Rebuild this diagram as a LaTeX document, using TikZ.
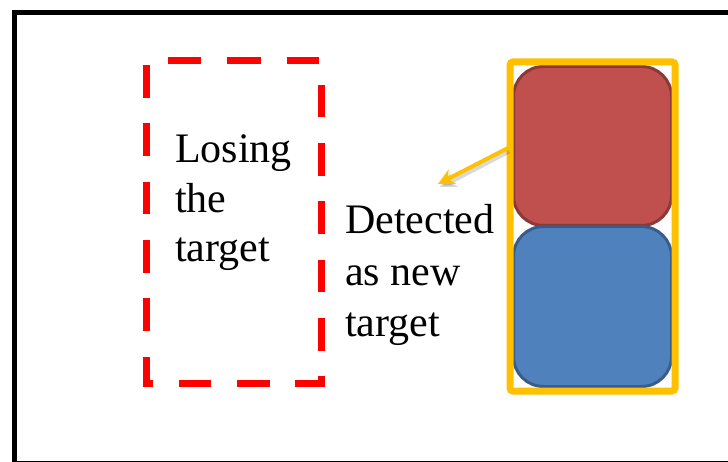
\documentclass[tikz,border=0pt]{standalone}
\usepackage{fontspec}
\setmainfont{Liberation Serif}
\usetikzlibrary{arrows.meta}
\definecolor{ppred}{HTML}{C0504D}
\definecolor{ppredline}{HTML}{8C3836}
\definecolor{ppblue}{HTML}{4F81BD}
\definecolor{ppblueline}{HTML}{385D8A}
\definecolor{ppyellow}{HTML}{FFC000}
\tikzset{
  block/.style={rectangle, minimum width=158pt, inner sep=0pt, line width=3pt, rounded corners=30pt},
  redblock/.style={block, fill=ppred, draw=ppredline, minimum height=159pt},
  blueblock/.style={block, fill=ppblue, draw=ppblueline, minimum height=160pt},
  yframe/.style={rectangle, draw=ppyellow, line width=7pt, rounded corners=3pt, minimum width=165pt, minimum height=329pt, inner sep=0pt},
  lostarea/.style={rectangle, minimum width=174pt, minimum height=322pt, inner sep=0pt},
  lostline/.style={draw=red, line width=7pt, dash pattern=on 32.5pt off 25.85pt, dash phase=5.6pt},
  txt/.style={anchor=base west, inner sep=0pt},
  yarrow/.style={draw=ppyellow, line width=4pt, -{Stealth[length=16pt,width=16pt,inset=5pt]}},
  yshadow/.style={draw=black, opacity=0.15, line width=5pt, -{Stealth[length=16pt,width=16pt,inset=5pt]}},
  outer/.style={draw=black, line width=5pt}
}
\begin{document}
\begin{tikzpicture}[x=1pt,y=-1pt]
\useasboundingbox (0,0) rectangle (728,462);
\clip (0,0) rectangle (728,462);
\fill[white] (0,0) rectangle (728,462);
% outer black frame (cut off at right and bottom)
\draw[outer] (14.8,12.5) rectangle (745,463.8);
% dashed "lost" area
\node[lostarea] (lost) at (234,222) {};
\draw[lostline] (lost.north) -- (lost.north east) -- (lost.south east) -- (lost.south west) -- (lost.north west) -- (lost.north);
% texts
\node[txt, font=\fontsize{42}{49.5}\selectfont] (losing) at (175,163) {\vtop{\hbox{Losing}\hbox{the}\hbox{target}}};
\node[txt, font=\fontsize{42}{51.5}\selectfont] (detected) at (345,234) {\vtop{\hbox{Detected}\hbox{as new}\hbox{target}}};
% stacked targets
\node[redblock] (red) at (592.5,146) {};
\node[blueblock] (blue) at (592.5,306.5) {};
\node[yframe] (frame) at (592.5,226.5) {};
% arrow
\coordinate (tail) at (508,148);
\coordinate (tip) at (438,184);
\coordinate (tailS) at (509,151);
\coordinate (tipS) at (440,187);
\draw[yshadow] (tailS) -- (tipS);
\draw[yarrow] (tail) -- (tip);
\end{tikzpicture}
\end{document}
